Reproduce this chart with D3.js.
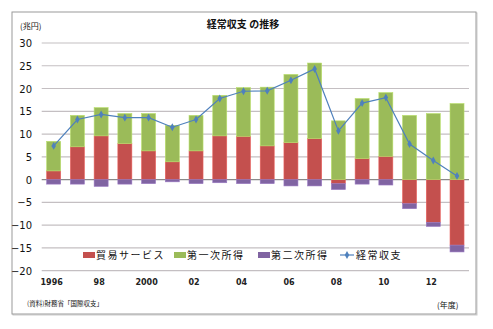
<!DOCTYPE html>
<html>
<head>
<meta charset="utf-8">
<script src="https://cdn.jsdelivr.net/npm/d3@7"></script>
<style>
  body { margin: 0; background: #fff; }
  svg { display: block; font-family: "Noto Sans CJK JP", "Noto Sans", sans-serif; }
</style>
</head>
<body>
<svg width="493" height="329"></svg>
<script>
// fiscal years 1996-2013, 兆円
var years = [1996,1997,1998,1999,2000,2001,2002,2003,2004,2005,2006,2007,2008,2009,2010,2011,2012,2013];
var yearLabels = ["1996","98","2000","02","04","06","08","10","12"];
var trade = [1.9,7.2,9.6,7.9,6.3,3.9,6.3,9.6,9.5,7.4,8.1,9.0,-0.9,4.6,5.1,-5.3,-9.4,-14.4];
var primary = [6.5,6.9,6.2,6.6,8.2,8.0,7.8,8.9,10.7,12.9,15.0,16.6,12.9,13.2,14.0,14.1,14.5,16.7];
var secondary = [-1.0,-1.0,-1.5,-1.0,-0.9,-0.5,-0.9,-0.7,-0.9,-0.9,-1.4,-1.4,-1.3,-1.0,-1.2,-1.1,-0.9,-1.5];
var current = [7.4,13.2,14.3,13.6,13.6,11.5,13.2,17.8,19.4,19.5,21.8,24.3,10.7,16.8,18.0,7.8,4.2,0.8];
var yTicks = [30,25,20,15,10,5,0,-5,-10,-15,-20];

var seriesNames = ["貿易サービス","第一次所得","第二次所得","経常収支"];
var colors = ["#c4504e","#9bbb59","#8064a2","#4f81bd"];

var svg = d3.select("svg");

// frame
svg.append("rect").attr("x",13).attr("y",13).attr("width",464).attr("height",302)
  .attr("fill","none").attr("stroke","#ccc");
svg.append("rect").attr("x",12).attr("y",12).attr("width",464).attr("height",302)
  .attr("fill","#fff").attr("stroke","#9a9a9a");

var x = d3.scaleBand().domain(years).range([41.7,469]).paddingInner(0.41).paddingOuter(0.21);
var y = d3.scaleLinear().domain([-20,30]).range([270.6,43]);

// grid
svg.append("g").selectAll("line").data(yTicks).enter().append("line")
  .attr("x1",41.7).attr("x2",469)
  .attr("y1",function(d){return y(d);}).attr("y2",function(d){return y(d);})
  .attr("stroke",function(d){return d==0 ? "#8a8a8a" : "#c4bfc2";})
  .attr("stroke-width",function(d){return d==0 ? 1.3 : 1.2;});

// y axis labels
var yAxis = d3.axisLeft(y).tickValues(yTicks).tickSize(0).tickPadding(0);
svg.append("g").attr("transform","translate(32,0)").call(yAxis)
  .call(function(g){g.select(".domain").remove();})
  .selectAll("text").attr("font-size",10).attr("fill","#111")
  .attr("font-family","'DejaVu Sans', sans-serif").attr("dy","0.35em");

// x axis labels on even years
var xAxis = d3.axisBottom(x).tickValues(years.filter(function(d){return d%2==0;}))
  .tickFormat(function(d,i){return yearLabels[i];}).tickSize(0).tickPadding(0);
svg.append("g").attr("transform","translate(-2,279)").call(xAxis)
  .call(function(g){g.select(".domain").remove();})
  .selectAll("text").attr("font-size",8).attr("font-weight","bold").attr("fill","#222")
  .attr("font-family","'DejaVu Sans', sans-serif");

// stacked bars: positives go up from 0, negatives go down from 0
var bars = svg.append("g");
years.forEach(function(yr,i){
  var pos = 0, neg = 0;
  [trade[i],primary[i],secondary[i]].forEach(function(v,k){
    var y0, y1;
    if (v >= 0) { y0 = pos; y1 = pos + v; pos = y1; }
    else { y0 = neg; y1 = neg + v; neg = y1; }
    bars.append("rect")
      .attr("x",x(yr)).attr("width",x.bandwidth())
      .attr("y",y(Math.max(y0,y1))).attr("height",Math.abs(y(y0)-y(y1)))
      .attr("fill",colors[k]).attr("stroke",d3.color(colors[k]).brighter(0.5)).attr("stroke-width",0.6);
  });
});

// current account line
var line = d3.line().x(function(d,i){return x(years[i])+x.bandwidth()/2;}).y(function(d){return y(d);});
svg.append("path").datum(current).attr("d",line)
  .attr("fill","none").attr("stroke",colors[3]).attr("stroke-width",1.2);
svg.append("g").selectAll("path").data(current).enter().append("path")
  .attr("d",d3.symbol().type(d3.symbolDiamond).size(18))
  .attr("transform",function(d,i){return "translate("+(x(years[i])+x.bandwidth()/2)+","+y(d)+")";})
  .attr("fill",colors[3]);

// legend
var legendX = [83,174,258,340];
var lg = svg.append("g").attr("transform","translate(0,255)");
seriesNames.forEach(function(name,k){
  var g = lg.append("g").attr("transform","translate("+legendX[k]+",0)");
  if (k < 3) {
    g.append("rect").attr("x",0).attr("y",-3).attr("width",12).attr("height",6).attr("fill",colors[k]);
  } else {
    g.append("line").attr("x1",0).attr("x2",14).attr("y1",0).attr("y2",0).attr("stroke",colors[3]).attr("stroke-width",1.2);
    g.append("path").attr("d",d3.symbol().type(d3.symbolDiamond).size(18)).attr("transform","translate(7,0)").attr("fill",colors[3]);
  }
  g.append("text").attr("x",k < 3 ? 13 : 16).attr("y",0).attr("dy","0.35em")
    .attr("font-size",10).attr("letter-spacing",1.5).attr("fill","#111").text(name);
});

// titles and notes
svg.append("text").attr("x",243).attr("y",28).attr("text-anchor","middle")
  .attr("font-size",10).attr("font-weight","bold").attr("fill","#111").text("経常収支 の推移");
svg.append("text").attr("x",20).attr("y",29).attr("font-size",8).attr("fill","#111").text("(兆円)");
svg.append("text").attr("x",437).attr("y",308).attr("font-size",8).attr("fill","#111").text("(年度)");
svg.append("text").attr("x",27).attr("y",306).attr("font-size",6.5).attr("fill","#111").text("(資料)財務省「国際収支」");
</script>
</body>
</html>
